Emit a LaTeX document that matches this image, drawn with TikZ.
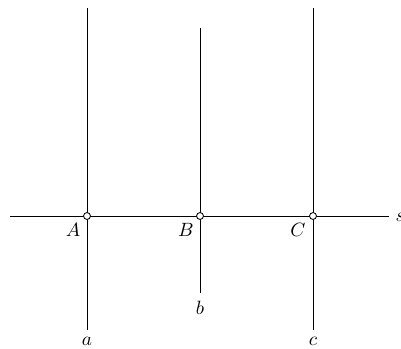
\documentclass[tikz,border=0pt]{standalone}
\begin{document}
\begin{tikzpicture}[x=0.52pt,y=-0.52pt,
  ln/.style={line width=0.45pt},
  pt/.style={circle,draw,fill=white,inner sep=0pt,minimum size=3.6pt,line width=0.45pt},
  lbl/.style={inner sep=0pt,font=\normalsize}]
\useasboundingbox (0,0) rectangle (401,348);
% endpoints
\coordinate (sL) at (10,216);
\coordinate (sR) at (389,216);
\coordinate (aT) at (87,8);
\coordinate (aB) at (87,330);
\coordinate (bT) at (200,28);
\coordinate (bB) at (200,293);
\coordinate (cT) at (313,8);
\coordinate (cB) at (313,330);
% lines
\draw[ln] (sL) -- (sR);
\draw[ln] (aT) -- (aB);
\draw[ln] (bT) -- (bB);
\draw[ln] (cT) -- (cB);
% points
\node[pt] (A) at (87,216) {};
\node[pt] (B) at (200,216) {};
\node[pt] (C) at (313,216) {};
% labels
\node[lbl] (lA) at (73,230) {$A$};
\node[lbl] (lB) at (186,230) {$B$};
\node[lbl] (lC) at (298,230) {$C$};
\node[lbl] (la) at (87,341) {$a$};
\node[lbl] (lb) at (200,308) {$b$};
\node[lbl] (lc) at (313,341) {$c$};
\node[lbl] (ls) at (400,217) {$s$};
\end{tikzpicture}
\end{document}
